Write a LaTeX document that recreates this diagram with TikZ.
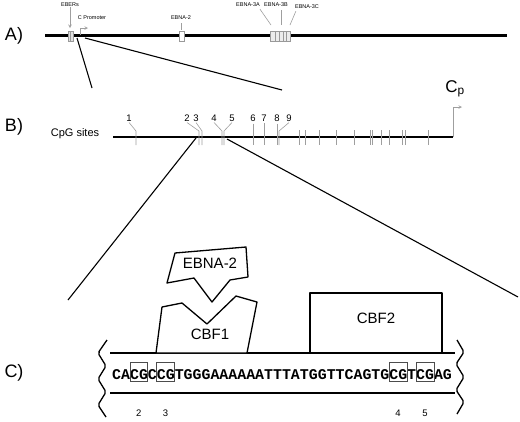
\documentclass[tikz,border=0pt]{standalone}
\usepackage{fontspec}
\setmainfont{Liberation Sans}
\setmonofont{Liberation Mono}
\usetikzlibrary{positioning}

\begin{document}
\begin{tikzpicture}[x=1pt, y=-1pt, every node/.style={inner sep=0pt},
    panel/.style={font=\fontsize{18}{20}\selectfont},
    tiny/.style={font=\fontsize{5.5}{6}\selectfont},
    num/.style={font=\fontsize{9.5}{10}\selectfont},
    big/.style={font=\fontsize{15}{16}\selectfont},
    tick/.style={draw=gray!75, line width=0.6pt},
    gene/.style={draw=gray!80, line width=0.6pt},
    zoomline/.style={line width=1.1pt},
    protein/.style={draw, line width=1.3pt, fill=white, line join=round}]

        \useasboundingbox (0,0) rectangle (520,421);

        % A) genome
        \node[panel] (lblA) at (14,36) {A)};
        \coordinate (A0) at (45,35);
        \coordinate (A1) at (507,35);
        \draw[line width=3pt] (A0) -- (A1);

        \node[tiny] (eber) at (70,5) {EBERs};
        \coordinate (eberTip) at (70,28);
        \draw[tick, ->, >=stealth] (eber.south) -- (eberTip);
        \draw[gene, fill=gray!25] (68,31) rectangle (73,41);
        \draw[gene] (70.5,31) -- (70.5,41);

        \node[tiny] (cprom) at (92,18) {C Promoter};
        \coordinate (cp0) at (80,35);
        \coordinate (cp1) at (88,28);
        \draw[tick, ->, >=stealth] (cp0) |- (cp1);

        \node[tiny] (ebna2) at (181,18) {EBNA-2};
        \coordinate (ebna2Tip) at (181,30);
        \draw[tick] (ebna2.south) ++(0,3) -- (ebna2Tip);
        \draw[gene, fill=white] (179,31) rectangle (184,41);

        \node[tiny] (ebna3a) at (248,5) {EBNA-3A};
        \node[tiny] (ebna3b) at (276,5) {EBNA-3B};
        \node[tiny] (ebna3c) at (307,7) {EBNA-3C};
        \draw[tick] (ebna3a.south east) ++(0,2) -- (271,25);
        \draw[tick] (ebna3b.south) ++(5,3) -- (281,25);
        \draw[tick] (ebna3c.south west) ++(1,2) -- (290,25);
        \draw[gene, fill=gray!15] (270,31) rectangle (290,41);
        \foreach \x in {275,279,283,286}
            \draw[gene] (\x,31) -- (\x,41);

        \coordinate (zA0) at (77,38);
        \coordinate (zA1) at (85,38);
        \coordinate (zB0) at (92,88);
        \coordinate (zB1) at (282,90);
        \draw[zoomline] (zA0) -- (zB0);
        \draw[zoomline] (zA1) -- (zB1);

        % B) CpG sites
        \node[panel] (lblB) at (14,127) {B)};
        \node[font=\fontsize{11}{12}\selectfont] (cpg) at (75,134) {CpG sites};
        \coordinate (B0) at (113,137);
        \coordinate (B1) at (453,137);
        \draw[line width=2.4pt] (B0) -- (B1);

        \foreach \n/\lx/\tx in {1/129/136, 2/187/199, 3/196/202, 4/214/222, 5/232/224, 9/289/279} {
            \node[num] (site\n) at (\lx,118) {\n};
            \draw[tick] (site\n.south) ++(0,1) -- (\tx,131) -- (\tx,145);
        }
        \foreach \n/\lx in {6/253, 7/264, 8/277} {
            \node[num] (site\n) at (\lx,118) {\n};
            \draw[tick] (site\n.south) ++(0,2) -- (\lx,145);
        }
        \foreach \x in {299,305,319,336,354,370,372,381,389,402,405,428}
            \draw[tick] (\x,130) -- (\x,145);

        \node[font=\fontsize{17}{18}\selectfont] (cpLabel) at (455,89) {C\textsubscript{p}};
        \coordinate (cpTip) at (462,107);
        \draw[tick, ->, >=stealth] (B1) |- (cpTip);

        \coordinate (zC0) at (68,300);
        \coordinate (zC1) at (518,297);
        \coordinate (zB2) at (196,138);
        \coordinate (zB3) at (227,139);
        \draw[zoomline] (zB2) -- (zC0);
        \draw[zoomline] (zB3) -- (zC1);

        % C) promoter sequence
        \node[panel] (lblC) at (14,373) {C)};
        \draw[line width=1.5pt] (110,353) -- (455,353);
        \draw[line width=1.5pt] (110,393) -- (455,393);
        \draw[line width=1.3pt, rounded corners=2pt]
            (107,340) -- (98,353) -- (106,366) -- (98,379) -- (106,392) -- (98,405) -- (106,417);
        \draw[line width=1.3pt, rounded corners=2pt]
            (457,340) -- (464,352) -- (456,364) -- (464,377) -- (456,390) -- (464,402) -- (457,414);

        \node[font=\ttfamily\bfseries\fontsize{14.9}{15}\selectfont, anchor=base west] (seq) at (112,379)
            {CACGCCGTGGGAAAAAATTTATGGTTCAGTGCGTCGAG};
        \foreach \i/\n in {2/2, 5/3, 31/4, 34/5} {
            \draw[draw=black!70, line width=0.6pt] ({112+\i*8.94},362) rectangle ({112+(\i+2)*8.94},381);
            \node[num] (cg\n) at ({112+(\i+1)*8.94},413) {\n};
        }

        \draw[protein] (310,293) rectangle (442,353);
        \node[big] (cbf2) at (376,318) {CBF2};
        \draw[protein] (156,353) -- (162,307) -- (182,303) -- (207,324) -- (236,296) -- (257,302) -- (247,353) -- cycle;
        \node[big] (cbf1) at (210,334) {CBF1};
        \draw[protein] (175,253) -- (246,247) -- (248,277) -- (230,280) -- (212,302) -- (194,278) -- (167,283) -- cycle;
        \node[big] (ebna) at (210,263) {EBNA-2};
\end{tikzpicture}
\end{document}
